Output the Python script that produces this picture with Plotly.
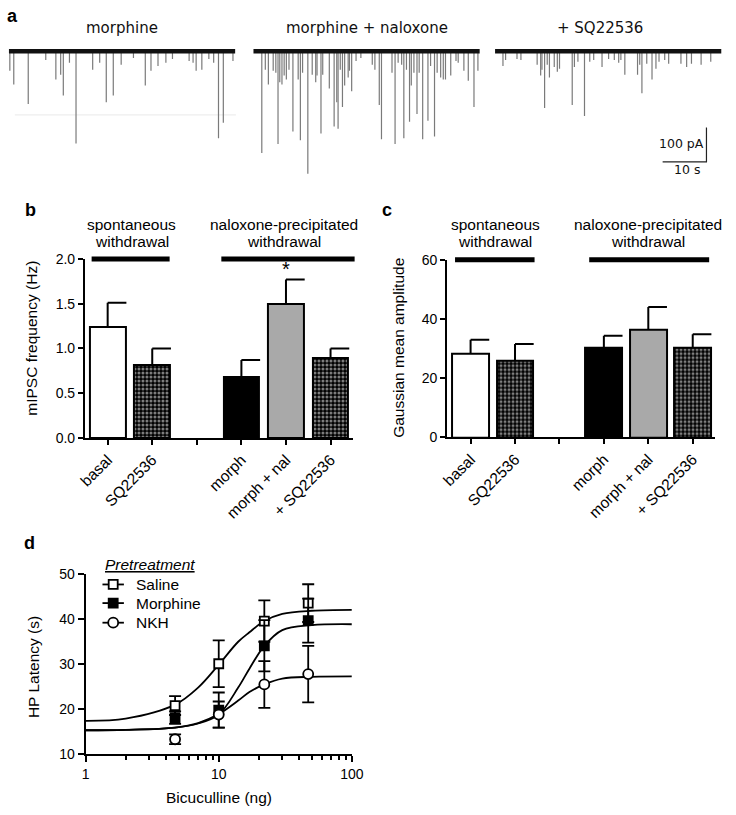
import plotly.graph_objects as go

W, H = 736, 815
FONT = "Liberation Sans, Arial, sans-serif"
FONT_A = "DejaVu Sans, Verdana, sans-serif"

# ---------------- Panel a: mIPSC traces (event time in s, amplitude in pA) ----------------
trace_titles = ["morphine", "morphine + naloxone", "+ SQ22536"]
trace_duration_s = 51.6
t1_times = [0.2, 1.1, 4.4, 8.4, 10.7, 11.8, 12.4, 13.8, 15.3, 19.1, 20.7, 22.2, 23.8, 25.6, 28.4,
            31.1, 32.4, 34.0, 35.8, 37.3, 41.1, 42.0, 42.7, 44.0, 45.6, 46.7, 47.8, 48.9, 51.1]
t1_amps = [57, 97, 154, 26, 83, 69, 129, 34, 269, 54, 34, 149, 129, 40, 20,
           100, 57, 43, 34, 23, 29, 34, 57, 54, 23, 34, 254, 209, 29]
t2_times = [1.9, 2.7, 3.4, 4.5, 5.1, 5.6, 6.0, 6.5, 7.0, 7.5, 8.1, 9.0, 10.2, 10.7, 11.2,
            12.4, 13.4, 14.2, 14.5, 15.4, 15.8, 17.3, 18.4, 19.0, 19.3, 19.8, 20.3, 20.8, 21.6, 21.9,
            22.4, 23.4, 24.5, 27.1, 27.7, 28.7, 29.2, 31.6, 32.3, 33.0, 33.8, 34.3, 34.9, 35.6, 36.0,
            36.6, 37.3, 37.8, 38.6, 39.8, 40.4, 41.3, 41.9, 42.7, 43.3, 43.8, 45.0, 46.2, 46.7, 48.0,
            49.0, 50.3, 51.2]
t2_amps = [297, 54, 97, 57, 63, 271, 91, 97, 71, 83, 54, 234, 83, 260, 63,
           357, 69, 91, 71, 240, 69, 109, 220, 149, 226, 54, 163, 100, 77, 57,
           117, 29, 20, 40, 54, 157, 257, 63, 271, 34, 40, 254, 54, 206, 100,
           63, 183, 63, 257, 203, 43, 249, 63, 77, 83, 83, 71, 29, 34, 57,
           86, 163, 57]
t3_times = [1.8, 2.4, 5.0, 5.9, 9.6, 10.4, 10.7, 11.3, 11.9, 12.4, 13.5, 14.2, 14.7, 17.6, 18.1,
            18.9, 20.4, 21.6, 22.5, 24.4, 25.9, 27.2, 28.2, 28.7, 29.6, 32.5, 33.0, 33.5, 34.6, 35.8,
            36.7, 37.4, 38.7, 39.6, 42.4, 43.7, 44.8, 47.0, 49.2]
t3_amps = [43, 26, 23, 26, 40, 71, 54, 166, 40, 77, 46, 60, 51, 157, 46,
           31, 189, 31, 26, 46, 23, 26, 34, 26, 69, 69, 40, 123, 37, 83,
           51, 31, 26, 37, 37, 46, 37, 40, 31]
scale_bar_pA = 100
scale_bar_s = 10

# ---------------- Panels b and c ----------------
categories = ["basal", "SQ22536", "", "morph", "morph + nal", "+ SQ22536"]
bar_positions = [0, 1, 3, 4, 5]
freq_mean = [1.24, 0.81, 0.68, 1.50, 0.89]
freq_sem = [0.27, 0.19, 0.19, 0.27, 0.11]
amp_mean = [28.3, 25.8, 30.2, 36.5, 30.2]
amp_sem = [4.7, 5.7, 4.1, 7.5, 4.6]
group_names = [["spontaneous", "withdrawal"], ["naloxone-precipitated", "withdrawal"]]

# ---------------- Panel d ----------------
doses = [4.7, 10, 22, 47]
saline_mean = [20.8, 30.1, 39.6, 43.6]
saline_sem = [2.1, 5.2, 4.6, 4.2]
morphine_mean = [18.1, 19.8, 34.1, 39.7]
morphine_sem = [1.4, 3.9, 5.7, 4.9]
nkh_mean = [13.3, 18.8, 25.5, 27.8]
nkh_sem = [1.1, 2.9, 5.2, 6.3]
curve_x = [1, 2, 4.7, 7, 10, 14, 17, 22, 30, 50, 100]
saline_curve = [17.4, 17.9, 21.0, 24.8, 29.9, 35.0, 37.1, 39.6, 41.2, 41.9, 42.1]
morphine_curve = [15.3, 15.4, 15.9, 16.8, 18.8, 24.8, 29.0, 34.1, 37.6, 38.7, 38.9]
nkh_curve = [15.3, 15.4, 15.9, 16.9, 18.9, 21.9, 23.8, 25.5, 26.8, 27.2, 27.3]
legend_title = "Pretreatment"


def fx(p):
    return p / W


def fy(p):
    return 1 - p / H


def label(xp, yp, text, size=15.5, family=FONT, xanchor="center", angle=0, color="black"):
    return dict(x=fx(xp), y=fy(yp), xref="paper", yref="paper", text=text, showarrow=False,
                textangle=angle, xanchor=xanchor, yanchor="middle",
                font=dict(family=family, size=size, color=color))


fig = go.Figure()
shapes = []
annotations = []

# ---- panel a ----
PX_PER_S = 4.5
PX_PER_PA = 0.35
trace_start_px = [2, 253, 501]
a_top_px, a_bot_px, a_base_px = 30, 180, 44
a_ymax = (a_base_px - a_top_px) / PX_PER_PA
a_ymin = a_ymax - (a_bot_px - a_top_px) / PX_PER_PA

shapes.append(dict(type="line", xref="x", yref="y", x0=8 / PX_PER_S, x1=235 / PX_PER_S,
                   y0=-(109 - a_base_px) / PX_PER_PA, y1=-(109 - a_base_px) / PX_PER_PA,
                   line=dict(color="#eeeeee", width=1.2), layer="below"))

for start_px, times, amps in zip(trace_start_px, [t1_times, t2_times, t3_times],
                                 [t1_amps, t2_amps, t3_amps]):
    t0 = start_px / PX_PER_S
    ex, ey = [], []
    for t, a in zip(times, amps):
        ex += [t0 + t, t0 + t, None]
        ey += [0, -a, None]
    fig.add_trace(go.Scatter(x=ex, y=ey, mode="lines", line=dict(color="#7a7a7a", width=1.2),
                             xaxis="x", yaxis="y", showlegend=False, hoverinfo="skip"))
    fig.add_trace(go.Scatter(x=[t0, t0 + trace_duration_s], y=[0, 0], mode="lines",
                             line=dict(color="#111111", width=4.5),
                             xaxis="x", yaxis="y", showlegend=False, hoverinfo="skip"))

sb_x1 = 718 / PX_PER_S
sb_y0 = -(157 - a_base_px) / PX_PER_PA
fig.add_trace(go.Scatter(x=[sb_x1 - scale_bar_s, sb_x1, sb_x1],
                         y=[sb_y0, sb_y0, sb_y0 + scale_bar_pA], mode="lines",
                         line=dict(color="#222222", width=1.2),
                         xaxis="x", yaxis="y", showlegend=False, hoverinfo="skip"))

for cx, title in zip([118, 370, 609], trace_titles):
    annotations.append(label(cx, 20, title, size=15, family=FONT_A, color="#111"))
annotations.append(label(692, 138, f"{scale_bar_pA} pA", size=12.5, family=FONT_A, color="#111"))
annotations.append(label(698, 165, f"{scale_bar_s} s", size=12.5, family=FONT_A, color="#111"))

# ---- panels b and c ----
bar_colors = ["white", "black", "black", "#a9a9a9", "black"]
bar_patterns = ["", ".", "", "", "."]
CAP = 0.42


def add_bar_panel(xa, ya, means, sems, width):
    fig.add_trace(go.Bar(x=bar_positions, y=means, width=width, xaxis=xa, yaxis=ya,
                         marker=dict(color=bar_colors, line=dict(color="black", width=2),
                                     pattern=dict(shape=bar_patterns, fgcolor="white",
                                                  fillmode="overlay", size=4, solidity=0.45)),
                         showlegend=False, hoverinfo="skip"))
    ex, ey = [], []
    for p, m, s in zip(bar_positions, means, sems):
        ex += [p, p, None, p, p + CAP, None]
        ey += [m, m + s, None, m + s, m + s, None]
    fig.add_trace(go.Scatter(x=ex, y=ey, mode="lines", line=dict(color="black", width=2),
                             xaxis=xa, yaxis=ya, showlegend=False, hoverinfo="skip"))


add_bar_panel("x2", "y2", freq_mean, freq_sem, 0.8)
add_bar_panel("x3", "y3", amp_mean, amp_sem, 0.83)

b_dom = (80, 355)
b_xr = (-0.51, 5.5)
c_dom = (451.7, 726.7)
c_xr = (-0.53, 5.5)


def data_to_px(x, dom, xr):
    return dom[0] + (x - xr[0]) / (xr[1] - xr[0]) * (dom[1] - dom[0])


for dom, xr, ypx, spans in [(b_dom, b_xr, 256, [(-0.36, 1.39), (2.55, 5.54)]),
                            (c_dom, c_xr, 256.7, [(-0.35, 1.44), (2.67, 5.37)])]:
    for x0, x1 in spans:
        shapes.append(dict(type="line", xref="paper", yref="paper",
                           x0=fx(data_to_px(x0, dom, xr)), x1=fx(data_to_px(x1, dom, xr)),
                           y0=fy(ypx), y1=fy(ypx), line=dict(color="black", width=5)))

for centers in [[128, 284], [501, 658]]:
    for cx, lines in zip(centers, group_names):
        for ly, txt in zip([221, 238], lines):
            annotations.append(label(cx, ly, txt))

annotations.append(dict(x=4, y=freq_mean[3] + freq_sem[3], xref="x2", yref="y2", text="*",
                        showarrow=False, yshift=11, font=dict(family=FONT, size=20, color="black"),
                        xanchor="center", yanchor="middle"))

annotations.append(label(25, 337, "mIPSC frequency (Hz)", angle=-90))
annotations.append(label(402, 347, "Gaussian mean amplitude", angle=-90))
annotations.append(label(28, 672, "HP Latency (s)", angle=-90))
annotations.append(label(218, 805, "Bicuculline (ng)"))

for (lx, ly), letter in zip([(6, 8), (24, 206), (390, 206), (23, 546)], ["a", "b", "c", "d"]):
    annotations.append(label(lx, ly, f"<b>{letter}</b>", size=18))

# ---- panel d ----
series = [("Saline", saline_mean, saline_sem, saline_curve, "square", "white"),
          ("Morphine", morphine_mean, morphine_sem, morphine_curve, "square", "black"),
          ("NKH", nkh_mean, nkh_sem, nkh_curve, "circle", "white")]
for name, m, s, curve, sym, fill in series:
    fig.add_trace(go.Scatter(x=curve_x, y=curve, mode="lines", line=dict(color="black", width=1.8, shape="spline"),
                             xaxis="x4", yaxis="y4", showlegend=False, hoverinfo="skip"))
for name, m, s, curve, sym, fill in series:
    fig.add_trace(go.Scatter(x=doses, y=m, mode="markers", xaxis="x4", yaxis="y4", name=name,
                             marker=dict(symbol=sym, size=9 if sym == "square" else 10, color=fill,
                                         line=dict(color="black", width=1.8)),
                             error_y=dict(type="data", array=s, visible=True, color="black",
                                          thickness=1.8, width=6),
                             showlegend=False, hoverinfo="skip"))

leg_rows_px = [588, 607, 627]
leg_sym_x = (98, 109, 120)
for ypx, (name, m, s, curve, sym, fill) in zip(leg_rows_px, series):
    fig.add_trace(go.Scatter(x=[leg_sym_x[0], leg_sym_x[2]], y=[ypx, ypx], mode="lines",
                             line=dict(color="black", width=1.8), xaxis="x5", yaxis="y5",
                             showlegend=False, hoverinfo="skip"))
    fig.add_trace(go.Scatter(x=[leg_sym_x[1]], y=[ypx], mode="markers", xaxis="x5", yaxis="y5",
                             marker=dict(symbol=sym, size=9 if sym == "square" else 10, color=fill,
                                         line=dict(color="black", width=1.8)),
                             showlegend=False, hoverinfo="skip"))
    annotations.append(label(130, ypx, name, xanchor="left"))
annotations.append(label(99, 568, f"<i><u>{legend_title}</u></i>", xanchor="left"))

axis_common = dict(showgrid=False, zeroline=False, showline=True, linecolor="black", linewidth=2,
                   ticks="outside", tickcolor="black", tickwidth=2, ticklen=5,
                   tickfont=dict(family=FONT, size=14, color="black"))
minor_vals = [2, 3, 4, 5, 6, 7, 8, 9, 20, 30, 40, 50, 60, 70, 80, 90]

fig.update_layout(
    width=W, height=H, autosize=False,
    margin=dict(l=0, r=0, t=0, b=0),
    paper_bgcolor="white", plot_bgcolor="rgba(0,0,0,0)",
    bargap=0, showlegend=False,
    xaxis=dict(domain=[0, 1], range=[0, W / PX_PER_S], visible=False),
    yaxis=dict(domain=[fy(a_bot_px), fy(a_top_px)], range=[a_ymin, a_ymax], visible=False),
    xaxis2=dict(axis_common, domain=[fx(b_dom[0]), fx(b_dom[1])], range=list(b_xr), anchor="y2",
                tickmode="array", tickvals=list(range(len(categories))), ticktext=categories,
                tickangle=-45, tickfont=dict(family=FONT, size=15.5, color="black")),
    yaxis2=dict(axis_common, domain=[fy(438.5), fy(256)], range=[0, 2.0], anchor="x2",
                tickmode="array", tickvals=[0, 0.5, 1.0, 1.5, 2.0], tickformat=".1f"),
    xaxis3=dict(axis_common, domain=[fx(c_dom[0]), fx(c_dom[1])], range=list(c_xr), anchor="y3",
                tickmode="array", tickvals=list(range(len(categories))), ticktext=categories,
                tickangle=-45, tickfont=dict(family=FONT, size=15.5, color="black")),
    yaxis3=dict(axis_common, domain=[fy(438), fy(256.7)], range=[0, 60], anchor="x3",
                tickmode="array", tickvals=[0, 20, 40, 60]),
    xaxis4=dict(axis_common, type="log", domain=[fx(80.7), fx(354)], range=[0, 2], anchor="y4",
                tickmode="array", tickvals=[1, 10, 100], ticktext=["1", "10", "100"], ticklen=6,
                minor=dict(tickmode="array", tickvals=minor_vals, ticks="outside", ticklen=3.5,
                           tickwidth=1.5, tickcolor="black", showgrid=False)),
    yaxis4=dict(axis_common, domain=[fy(761), fy(577.7)], range=[10, 50], anchor="x4",
                tickmode="array", tickvals=[10, 20, 30, 40, 50], ticklen=6),
    xaxis5=dict(domain=[0, 1], range=[0, W], visible=False, anchor="y5"),
    yaxis5=dict(domain=[0, 1], range=[H, 0], visible=False, anchor="x5"),
    shapes=shapes,
    annotations=annotations,
)

page_fit = ("document.body.style.margin='0px';"
            "document.documentElement.style.overflow='hidden';"
            "document.body.style.overflow='hidden';")

fig.write_html("out.html", config={"displayModeBar": False}, post_script=page_fit)
